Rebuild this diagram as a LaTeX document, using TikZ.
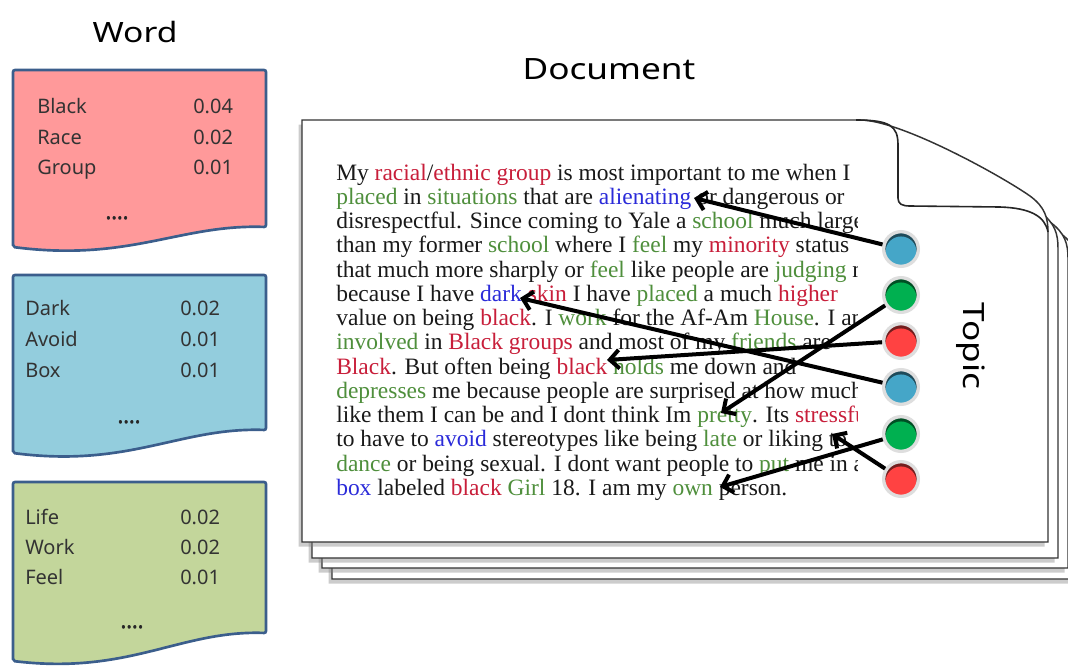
\documentclass[tikz,border=0pt]{standalone}
\usepackage{fontspec}
\setmainfont{Liberation Serif}
\newfontfamily\labfont[FakeStretch=1.2]{Noto Sans}
\newfontfamily\boxfont{Noto Sans}
\newfontfamily\dotfont[FakeBold=2.5]{Noto Sans}
\usetikzlibrary{arrows.meta,shadows}

\definecolor{redfill}{HTML}{FF999A}
\definecolor{bluefill}{HTML}{93CDDD}
\definecolor{greenfill}{HTML}{C3D69B}
\definecolor{boxedge}{HTML}{3B5E8C}
\definecolor{wred}{HTML}{C81E3A}
\definecolor{wgrn}{HTML}{4F8F3C}
\definecolor{wblu}{HTML}{2B2BD9}
\definecolor{ballblue}{HTML}{45A6C8}
\definecolor{ballgreen}{HTML}{00B050}
\definecolor{ballred}{HTML}{FF4242}

\newcommand\tred[1]{\textcolor{wred}{#1}}
\newcommand\tgrn[1]{\textcolor{wgrn}{#1}}
\newcommand\tblu[1]{\textcolor{wblu}{#1}}

\tikzset{
  wordbox/.style={draw=boxedge, line width=2pt, rounded corners=1.5pt},
  boxtext/.style={anchor=base west, inner sep=0pt, text=black!80, font=\boxfont\fontsize{15}{18}\selectfont},
  dotstext/.style={anchor=base, inner sep=0pt, text=black!85, font=\dotfont\fontsize{16}{18}\selectfont},
  labtext/.style={inner sep=0pt, text=black, font=\labfont\fontsize{#1}{24}\selectfont},
  page/.style={draw=black!80, line width=1.1pt, fill=white,
    drop shadow={opacity=0.4, shadow xshift=-2.5pt, shadow yshift=-3.5pt}},
  foldline/.style={draw=black!85, line width=1.2pt},
  doctext/.style={anchor=base west, inner sep=0pt, text=black!90, font=\fontsize{17.6}{20}\selectfont},
  ball/.style={circle, minimum size=26pt, inner sep=0pt, draw=black!13, line width=2.5pt,
    fill=#1, path picture={
      \fill[#1!45!black] (path picture bounding box.center) circle (13pt);
      \fill[#1] ([yshift=-2.2pt]path picture bounding box.center) circle (11.6pt);
    }},
  topicarrow/.style={draw=black, line width=3pt, -{Straight Barb[length=7pt,width=14pt]}}
}

\begin{document}
\begin{tikzpicture}[x=0.75pt,y=-0.75pt]
\useasboundingbox (0,0) rectangle (1068,668);

% ---------- titles ----------
\node[labtext=21, anchor=base] (wordlbl) at (135,42) {Word};
\node[labtext=22, anchor=base] (doclbl) at (609,79) {Document};

% ---------- word boxes ----------
\path[wordbox, fill=redfill] (13,70) -- (266,70) -- (266,227)
  .. controls (180,224) and (130,262) .. (13,247) -- cycle;
\path[wordbox, fill=bluefill] (13,275) -- (266,275) -- (266,430)
  .. controls (180,427) and (130,468) .. (13,453) -- cycle;
\path[wordbox, fill=greenfill] (13,482) -- (266,482) -- (266,633)
  .. controls (180,630) and (130,675) .. (13,661) -- cycle;

\node[boxtext] (w11) at (37,113) {Black};  \node[boxtext] (p11) at (193,113) {0.04};
\node[boxtext] (w12) at (37,144) {Race};   \node[boxtext] (p12) at (193,144) {0.02};
\node[boxtext] (w13) at (37,174) {Group};  \node[boxtext] (p13) at (193,174) {0.01};
\node[dotstext] (d1) at (117,219) {....};

\node[boxtext] (w21) at (25,315) {Dark};   \node[boxtext] (p21) at (180,315) {0.02};
\node[boxtext] (w22) at (25,346) {Avoid};  \node[boxtext] (p22) at (180,346) {0.01};
\node[boxtext] (w23) at (25,377) {Box};    \node[boxtext] (p23) at (180,377) {0.01};
\node[dotstext] (d2) at (129,423) {....};

\node[boxtext] (w31) at (25,524) {Life};   \node[boxtext] (p31) at (180,524) {0.02};
\node[boxtext] (w32) at (25,554) {Work};   \node[boxtext] (p32) at (180,554) {0.02};
\node[boxtext] (w33) at (25,584) {Feel};   \node[boxtext] (p33) at (180,584) {0.01};
\node[dotstext] (d3) at (132,628) {....};

% ---------- document stack ----------
\path[page, shift={(30,37)}] (302,542) -- (302,120) -- (860,120)
    .. controls (900,120) and (1000,175) .. (1030,196)
    .. controls (1045,207) and (1048,218) .. (1048,232) -- (1048,542) -- cycle;
\path[page, shift={(20,26)}] (302,542) -- (302,120) -- (860,120)
    .. controls (900,120) and (1000,175) .. (1030,196)
    .. controls (1045,207) and (1048,218) .. (1048,232) -- (1048,542) -- cycle;
\path[page, shift={(10,16)}] (302,542) -- (302,120) -- (860,120)
    .. controls (900,120) and (1000,175) .. (1030,196)
    .. controls (1045,207) and (1048,218) .. (1048,232) -- (1048,542) -- cycle;
\path[page] (302,542) -- (302,120) -- (860,120)
    .. controls (900,120) and (1000,175) .. (1030,196)
    .. controls (1045,207) and (1048,218) .. (1048,232) -- (1048,542) -- cycle;
\draw[foldline] (856,120) .. controls (890,120) and (898,126) .. (898,145)
  -- (898,198) .. controls (898,204) and (902,206) .. (910,206)
  -- (1000,207) .. controls (1030,208) and (1045,216) .. (1048,232);

% ---------- document text ----------
\begin{scope}
\clip (330,150) rectangle (857,510);
\node[doctext] (l1)  at (336,180.3) {My \tred{racial}/\tred{ethnic group} is most important to me when I};
\node[doctext] (l2)  at (336,204.5) {\tgrn{placed} in \tgrn{situations} that are \tblu{alienating} or dangerous or};
\node[doctext] (l3)  at (336,228.7) {disrespectful. Since coming to Yale a \tgrn{school} much larger};
\node[doctext] (l4)  at (336,252.9) {than my former \tgrn{school} where I \tgrn{feel} my \tred{minority} status};
\node[doctext] (l5)  at (336,277.2) {that much more sharply or \tgrn{feel} like people are \tgrn{judging} me};
\node[doctext] (l6)  at (336,301.4) {because I have \tblu{dark} \tred{skin} I have \tgrn{placed} a much \tred{higher}};
\node[doctext] (l7)  at (336,325.6) {value on being \tred{black}. I \tgrn{work} for the Af-Am \tgrn{House}. I am};
\node[doctext] (l8)  at (336,349.9) {\tgrn{involved} in \tred{Black groups} and most of my \tgrn{friends} are};
\node[doctext] (l9)  at (336,374.1) {\tred{Black}. But often being \tred{black} \tgrn{holds} me down and};
\node[doctext] (l10) at (336,398.4) {\tgrn{depresses} me because people are surprised at how much};
\node[doctext] (l11) at (336,422.6) {like them I can be and I dont think Im \tgrn{pretty}. Its \tred{stressful}};
\node[doctext] (l12) at (336,446.8) {to have to \tblu{avoid} stereotypes like being \tgrn{late} or liking to};
\node[doctext] (l13) at (336,471.0) {\tgrn{dance} or being sexual. I dont want people to \tgrn{put} me in a};
\node[doctext] (l14) at (336,495.3) {\tblu{box} labeled \tred{black} \tgrn{Girl} 18. I am my \tgrn{own} person.};
\end{scope}

% ---------- topic label ----------
\node[labtext=22, rotate=-90, anchor=base] (topic) at (963,346) {Topic};

% ---------- topic balls ----------
\node[ball=ballblue]  (b1) at (901,249) {};
\node[ball=ballgreen] (b2) at (901,295) {};
\node[ball=ballred]   (b3) at (901,341) {};
\node[ball=ballblue]  (b4) at (901,387) {};
\node[ball=ballgreen] (b5) at (901,434) {};
\node[ball=ballred]   (b6) at (901,479) {};

% ---------- arrow targets ----------
\coordinate (t1) at (694,198);
\coordinate (t2) at (721,413);
\coordinate (t3) at (607,360);
\coordinate (t4) at (520,298);
\coordinate (t5) at (720,487);
\coordinate (t6) at (832,434);

\draw[topicarrow] (b1) -- (t1);
\draw[topicarrow] (b2) -- (t2);
\draw[topicarrow] (b3) -- (t3);
\draw[topicarrow] (b4) -- (t4);
\draw[topicarrow] (b5) -- (t5);
\draw[topicarrow] (b6) -- (t6);
\end{tikzpicture}
\end{document}
